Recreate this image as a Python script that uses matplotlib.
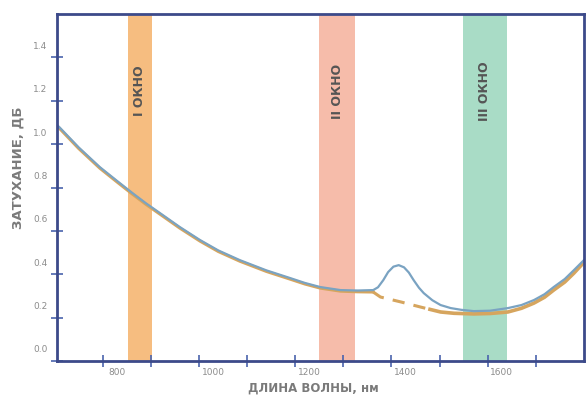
import matplotlib
matplotlib.use('Agg')
import matplotlib.pyplot as plt
from matplotlib.transforms import ScaledTranslation

plt.rc('font', family='DejaVu Sans')

# attenuation curve with the water peak (blue)
wl_blue = [704, 710, 750, 794, 830, 862, 890, 919, 960, 1002, 1040, 1085,
           1140, 1190, 1220, 1252, 1294, 1330, 1362, 1372, 1383, 1393,
           1404, 1415, 1426, 1436, 1446, 1457, 1467, 1485, 1502, 1523,
           1545, 1571, 1605, 1642, 1670, 1696, 1718, 1737, 1760, 1779, 1802]
att_blue = [1.09, 1.078, 0.985, 0.894, 0.830, 0.774, 0.727, 0.682, 0.618,
            0.558, 0.510, 0.465, 0.418, 0.382, 0.360, 0.341, 0.327, 0.325,
            0.327, 0.340, 0.373, 0.410, 0.435, 0.442, 0.432, 0.408, 0.373,
            0.338, 0.313, 0.280, 0.258, 0.244, 0.236, 0.230, 0.232, 0.244,
            0.258, 0.281, 0.308, 0.341, 0.378, 0.419, 0.470]

# low-water-peak fibre (orange): solid, dashed, solid
wl_or1 = [704, 710, 750, 794, 830, 862, 890, 919, 960, 1002, 1040, 1085,
          1140, 1190, 1220, 1252, 1294, 1330, 1362]
att_or1 = [1.085, 1.073, 0.980, 0.889, 0.825, 0.769, 0.722, 0.677, 0.613,
           0.553, 0.505, 0.460, 0.413, 0.377, 0.355, 0.336, 0.322, 0.319,
           0.318]
wl_or2 = [1362, 1377, 1420, 1460, 1480]
att_or2 = [0.318, 0.295, 0.272, 0.249, 0.238]
wl_or3 = [1480, 1502, 1530, 1571, 1605, 1642, 1670, 1696, 1718, 1737,
          1760, 1779, 1802]
att_or3 = [0.238, 0.226, 0.220, 0.217, 0.219, 0.226, 0.243, 0.267, 0.294,
           0.327, 0.364, 0.405, 0.460]

# transparency windows
win_labels = ['I ОКНО', 'II ОКНО', 'III ОКНО']
win_lo = [852, 1250, 1548]
win_hi = [902, 1325, 1640]
win_colors = ['#f6bd80', '#f6bcaa', '#a9dcc6']

x_ticks = [800, 900, 1000, 1100, 1200, 1300, 1400, 1500, 1600, 1700]
x_labels = ['800', '', '1000', '', '1200', '', '1400', '', '1600', '']
y_ticks = [0.0, 0.2, 0.4, 0.6, 0.8, 1.0, 1.2, 1.4]

fig = plt.figure(figsize=(5.88, 3.99), dpi=100)
ax = fig.add_axes([57/588, 38/399, 527/588, 347/399])

for lo, hi, c, lab in zip(win_lo, win_hi, win_colors, win_labels):
    ax.axvspan(lo, hi, color=c, lw=0, zorder=1)
    ax.text((lo + hi) / 2, 1.245, lab, rotation=90, ha='center', va='center',
            fontsize=9, fontweight='bold', color='#555555', zorder=3)

ax.plot(wl_or1, att_or1, color='#d6a55e', lw=2.2, zorder=2)
ax.plot(wl_or2, att_or2, color='#d6a55e', lw=2.2, ls=(0, (4, 3)), zorder=2)
ax.plot(wl_or3, att_or3, color='#d6a55e', lw=2.6, zorder=2)
ax.plot(wl_blue, att_blue, color='#7aa3c2', lw=1.6, zorder=2)

ax.set_xlim(705, 1800)
ax.set_ylim(0, 1.6)
ax.set_xticks(x_ticks)
ax.set_xticklabels(x_labels)
ax.set_yticks(y_ticks)
ax.set_yticklabels(['%.1f' % v for v in y_ticks])

for s in ax.spines.values():
    s.set_color('#3c4a8a')
    s.set_linewidth(2)
ax.tick_params(axis='both', direction='inout', length=8, width=1.2,
               colors='#4a63ad', labelcolor='#8c8c8c', labelsize=6.5)
ax.tick_params(axis='x', pad=1)
ax.tick_params(axis='y', pad=3)

# labels in the source are printed a bit off their ticks
for lab in ax.get_xticklabels():
    lab.set_transform(lab.get_transform() + ScaledTranslation(0.14, 0, fig.dpi_scale_trans))
for lab in ax.get_yticklabels():
    lab.set_transform(lab.get_transform() + ScaledTranslation(0, 0.12, fig.dpi_scale_trans))

fig.text(313/588, 1 - 388/399, 'ДЛИНА ВОЛНЫ, нм', ha='center', va='center',
         fontsize=8.5, fontweight='bold', color='#7a7a7a')
fig.text(18/588, 1 - 168/399, 'ЗАТУХАНИЕ, ДБ', ha='center', va='center',
         rotation=90, fontsize=9.5, fontweight='bold', color='#7a7a7a')

fig.savefig('out.png', dpi=100)
